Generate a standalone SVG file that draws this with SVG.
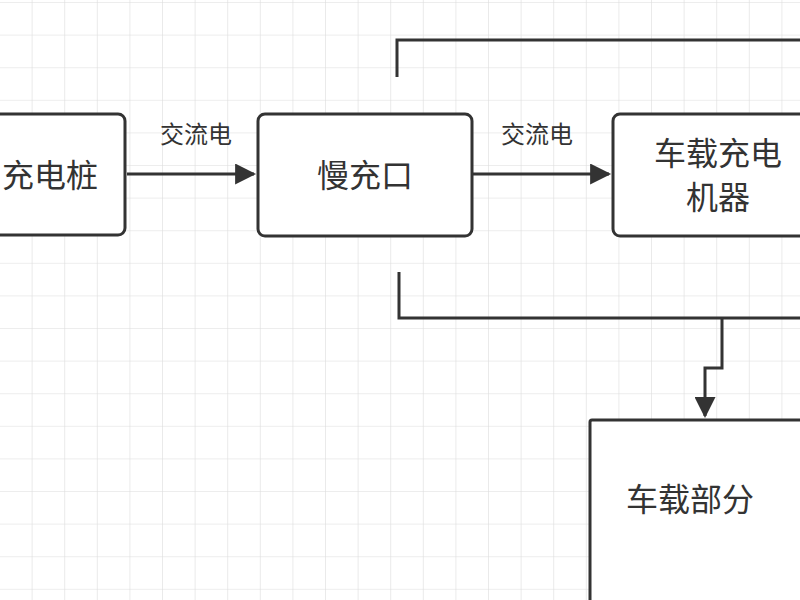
<svg xmlns="http://www.w3.org/2000/svg" width="800" height="600" viewBox="0 0 800 600">
<defs>
<pattern id="grid" x="0" y="3" width="32.6" height="32.6" patternUnits="userSpaceOnUse">
<path d="M32.6 0V32.6M0 32.6H32.6" fill="none" stroke="#dcdcdc" stroke-width="1.2"/>
</pattern>
<marker id="arr" viewBox="0 0 10 10" refX="9" refY="5" markerWidth="7.5" markerHeight="7" orient="auto" markerUnits="strokeWidth">
<path d="M0 0L10 5L0 10Z" fill="#333"/>
</marker>
<style>
.box{fill:#fff;stroke:#333;stroke-width:3}
.t{font-family:"Noto Sans CJK SC",sans-serif;fill:#333;font-size:32px;text-anchor:middle}
.l{font-family:"Noto Sans CJK SC",sans-serif;fill:#333;font-size:24px;text-anchor:middle}
.c{fill:none;stroke:#333;stroke-width:3}
</style>
</defs>
<rect width="800" height="600" fill="#fff"/>
<rect width="800" height="600" fill="url(#grid)"/>
<g id="connectors">
<path class="c" d="M127 174H254" marker-end="url(#arr)"/>
<path class="c" d="M473 174H609" marker-end="url(#arr)"/>
<path class="c" d="M397 77V40H802"/>
<path class="c" d="M399 272V318H802"/>
<path class="c" d="M722 318V368H705V416" marker-end="url(#arr)"/>
<text class="l" x="196" y="143">交流电</text>
<text class="l" x="537" y="143">交流电</text>
</g>
<g id="n1"><rect class="box" x="-20" y="114" width="145" height="121" rx="7"/><text class="t" x="50" y="187">充电桩</text></g>
<g id="n2"><rect class="box" x="258" y="114" width="214" height="122" rx="7"/><text class="t" x="365" y="187">慢充口</text></g>
<g id="n3"><rect class="box" x="613" y="114" width="210" height="122" rx="7"/><text class="t" x="718" y="165">车载充电</text><text class="t" x="718" y="209">机器</text></g>
<g id="n4"><rect class="box" x="590" y="420" width="240" height="200" rx="2"/><text class="t" x="690" y="511">车载部分</text></g>
</svg>
